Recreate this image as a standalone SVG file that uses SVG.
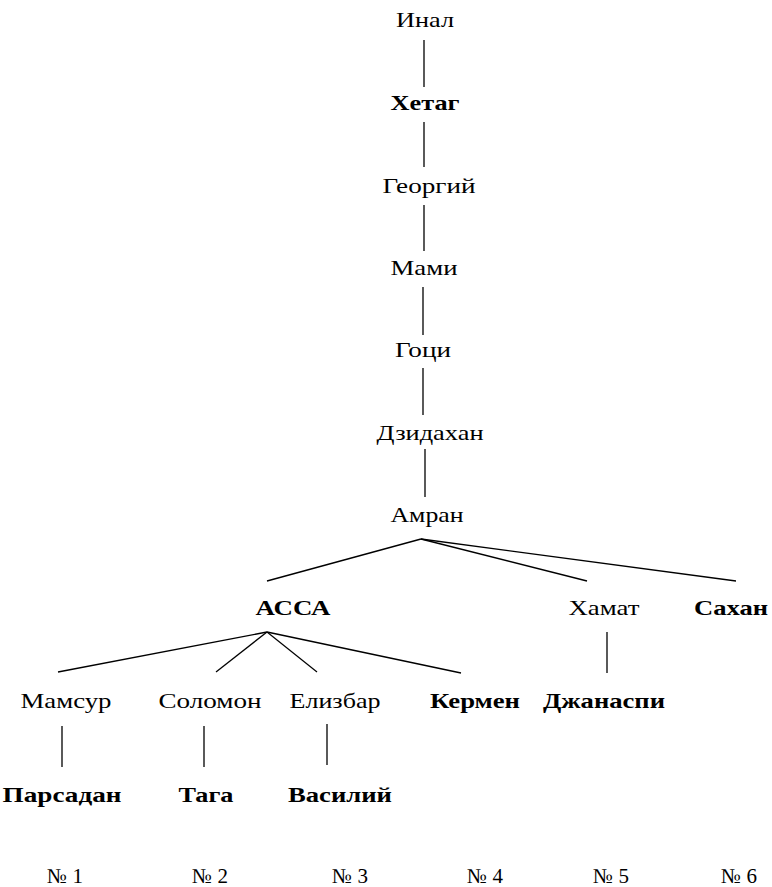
<svg xmlns="http://www.w3.org/2000/svg" width="772" height="887" viewBox="0 0 772 887">
<style>
text{font-family:"Liberation Serif","Times New Roman",serif;font-size:21px;fill:#000;text-anchor:middle}
.b{font-weight:bold}
.c line{stroke:#000;stroke-width:1.3}
</style>
<rect width="772" height="887" fill="#fff"/>
<g class="c" id="connectors">
<line x1="424" y1="40" x2="424" y2="87"/>
<line x1="424" y1="122" x2="424" y2="167"/>
<line x1="424" y1="205" x2="424" y2="251"/>
<line x1="423" y1="287" x2="423" y2="335"/>
<line x1="423" y1="368" x2="423" y2="415"/>
<line x1="425" y1="449" x2="425" y2="497"/>
<line x1="421" y1="539" x2="267" y2="581"/>
<line x1="421" y1="539" x2="587" y2="581"/>
<line x1="421" y1="539" x2="736" y2="581"/>
<line x1="267" y1="632" x2="58" y2="672"/>
<line x1="267" y1="632" x2="216" y2="672"/>
<line x1="267" y1="632" x2="317" y2="672"/>
<line x1="267" y1="632" x2="461" y2="673"/>
<line x1="607" y1="632" x2="607" y2="673"/>
<line x1="62" y1="726" x2="62" y2="767"/>
<line x1="204" y1="726" x2="204" y2="767"/>
<line x1="327" y1="724" x2="327" y2="765"/>
</g>
<g id="inal"><text x="425" y="27" textLength="58" lengthAdjust="spacingAndGlyphs">Инал</text></g>
<g id="khetag"><text class="b" x="425" y="110" textLength="69" lengthAdjust="spacingAndGlyphs">Хетаг</text></g>
<g id="georgiy"><text x="429" y="193" textLength="93" lengthAdjust="spacingAndGlyphs">Георгий</text></g>
<g id="mami"><text x="424" y="275" textLength="67" lengthAdjust="spacingAndGlyphs">Мами</text></g>
<g id="gotsi"><text x="423" y="357" textLength="56" lengthAdjust="spacingAndGlyphs">Гоци</text></g>
<g id="dzidakhan"><text x="430" y="440" textLength="107" lengthAdjust="spacingAndGlyphs">Дзидахан</text></g>
<g id="amran"><text x="427" y="522" textLength="73" lengthAdjust="spacingAndGlyphs">Амран</text></g>
<g id="assa"><text class="b" x="293" y="615" textLength="75" lengthAdjust="spacingAndGlyphs">АССА</text></g>
<g id="khamat"><text x="604" y="615" textLength="71" lengthAdjust="spacingAndGlyphs">Хамат</text></g>
<g id="sakhan"><text class="b" x="731" y="615" textLength="74" lengthAdjust="spacingAndGlyphs">Сахан</text></g>
<g id="mamsur"><text x="66" y="708" textLength="91" lengthAdjust="spacingAndGlyphs">Мамсур</text></g>
<g id="solomon"><text x="210" y="708" textLength="103" lengthAdjust="spacingAndGlyphs">Соломон</text></g>
<g id="elizbar"><text x="335" y="708" textLength="91" lengthAdjust="spacingAndGlyphs">Елизбар</text></g>
<g id="kermen"><text class="b" x="475" y="708" textLength="90" lengthAdjust="spacingAndGlyphs">Кермен</text></g>
<g id="dzhanaspi"><text class="b" x="604" y="708" textLength="122" lengthAdjust="spacingAndGlyphs">Джанаспи</text></g>
<g id="parsadan"><text class="b" x="62" y="802" textLength="119" lengthAdjust="spacingAndGlyphs">Парсадан</text></g>
<g id="taga"><text class="b" x="206" y="802" textLength="55" lengthAdjust="spacingAndGlyphs">Тага</text></g>
<g id="vasiliy"><text class="b" x="340" y="802" textLength="104" lengthAdjust="spacingAndGlyphs">Василий</text></g>
<g id="numbers">
<text x="65" y="883">№ 1</text>
<text x="210" y="883">№ 2</text>
<text x="350" y="883">№ 3</text>
<text x="485" y="883">№ 4</text>
<text x="611" y="883">№ 5</text>
<text x="739" y="883">№ 6</text>
</g>
</svg>
